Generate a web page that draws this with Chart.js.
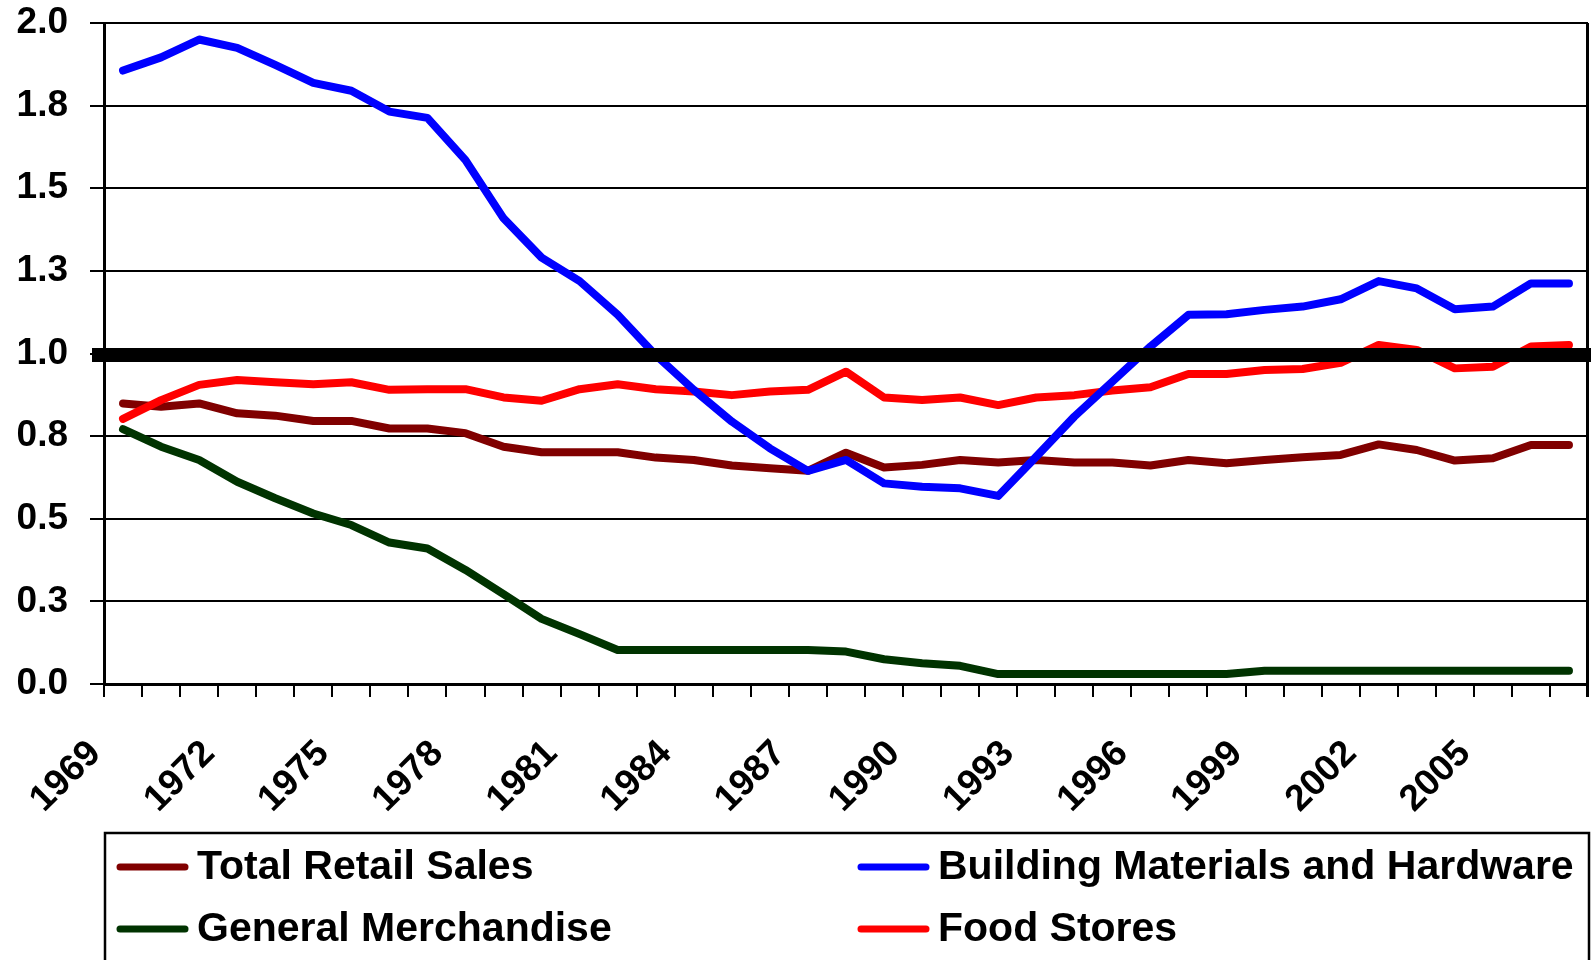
<!DOCTYPE html>
<html>
<head>
<meta charset="utf-8">
<script src="https://cdn.jsdelivr.net/npm/chart.js@4.4.1/dist/chart.umd.min.js"></script>
<style>
html,body{margin:0;padding:0;background:#fff;overflow:hidden}
#wrap{width:1591px;height:960px;position:relative}
canvas{display:block}
</style>
</head>
<body>
<div id="wrap"><canvas id="c" width="1591" height="960"></canvas></div>
<script>
// ---- Data ----
const years = ["1969","1970","1971","1972","1973","1974","1975","1976","1977","1978",
  "1979","1980","1981","1982","1983","1984","1985","1986","1987","1988",
  "1989","1990","1991","1992","1993","1994","1995","1996","1997","1998",
  "1999","2000","2001","2002","2003","2004","2005","2006","2007"];

const totalRetailSales = [0.849,0.839,0.849,0.819,0.812,0.796,0.796,0.773,0.773,0.759,
  0.718,0.701,0.701,0.701,0.685,0.678,0.661,0.653,0.645,0.700,
  0.655,0.663,0.678,0.670,0.678,0.670,0.670,0.661,0.678,0.668,
  0.678,0.686,0.693,0.725,0.708,0.676,0.683,0.723,0.723];

const buildingMaterials = [1.856,1.896,1.950,1.925,1.873,1.819,1.795,1.732,1.713,1.585,
  1.409,1.290,1.219,1.117,0.995,0.890,0.794,0.713,0.645,0.678,
  0.607,0.597,0.592,0.569,0.688,0.809,0.915,1.021,1.117,1.119,
  1.132,1.142,1.164,1.219,1.197,1.134,1.142,1.212,1.212];

const generalMerchandise = [0.771,0.718,0.678,0.612,0.562,0.516,0.481,0.428,0.410,0.345,
  0.272,0.197,0.151,0.103,0.103,0.103,0.103,0.103,0.103,0.098,
  0.075,0.063,0.055,0.030,0.030,0.030,0.030,0.030,0.030,0.030,
  0.040,0.040,0.040,0.040,0.040,0.040,0.040,0.040,0.040];

const foodStores = [0.802,0.859,0.905,0.920,0.913,0.907,0.913,0.890,0.892,0.892,
  0.867,0.857,0.892,0.907,0.892,0.885,0.874,0.885,0.890,0.945,
  0.867,0.859,0.867,0.844,0.867,0.874,0.888,0.898,0.938,0.938,
  0.950,0.953,0.972,1.026,1.011,0.955,0.960,1.021,1.026];

const seriesNames = ["Total Retail Sales","Building Materials and Hardware","General Merchandise","Food Stores"];
const seriesColors = ["#800000","#0000FF","#003300","#FF0000"];
const referenceLevel = 1.0;
const yMin = 0, yMax = 2, yStep = 0.25;

// ---- Chart ----
const FONT = "'Liberation Sans', Arial, Helvetica, sans-serif";
const seriesData = [totalRetailSales, buildingMaterials, generalMerchandise, foodStores];
const drawOrder = [2, 0, 3, 1];

const datasets = seriesNames.map((name, i) => ({
  label: name,
  data: seriesData[i],
  borderColor: seriesColors[i],
  backgroundColor: seriesColors[i],
  borderWidth: 8,
  pointRadius: 0,
  pointHoverRadius: 0,
  tension: 0,
  fill: false,
  borderCapStyle: 'round',
  borderJoinStyle: 'round',
  order: drawOrder[i]
}));

const decor = {
  id: 'decor',
  afterDatasetsDraw(chart) {
    const {ctx, chartArea, scales} = chart;
    const yp = scales.y.getPixelForValue(referenceLevel);
    ctx.save();
    ctx.fillStyle = '#000';
    const x0 = chartArea.left - 12;
    ctx.fillRect(x0, Math.round(yp) - 6, chart.width - x0, 14);
    ctx.strokeStyle = '#000';
    ctx.lineWidth = 3;
    ctx.beginPath();
    ctx.moveTo(chartArea.right - 0.5, chartArea.top);
    ctx.lineTo(chartArea.right - 0.5, chartArea.bottom + 13);
    ctx.stroke();
    ctx.restore();
  },
  afterDraw(chart) {
    const {ctx, chartArea} = chart;
    ctx.save();
    const boxTop = 833;
    ctx.strokeStyle = '#000';
    ctx.lineWidth = 2.5;
    ctx.strokeRect(chartArea.left + 1, boxTop, chartArea.right - chartArea.left, 200);
    const colX = [197, 938];
    const rowY = [867, 929];
    ctx.font = "bold 41px " + FONT;
    ctx.textBaseline = 'middle';
    ctx.textAlign = 'left';
    chart.data.datasets.forEach((ds, i) => {
      const col = i % 2, row = Math.floor(i / 2);
      const tx = colX[col], ty = rowY[row];
      ctx.strokeStyle = ds.borderColor;
      ctx.lineWidth = 7;
      ctx.lineCap = 'round';
      ctx.beginPath();
      ctx.moveTo(tx - 77, ty);
      ctx.lineTo(tx - 12, ty);
      ctx.stroke();
      ctx.fillStyle = '#000';
      ctx.fillText(ds.label, tx, ty + 1);
    });
    ctx.restore();
  }
};

new Chart(document.getElementById('c'), {
  type: 'line',
  data: { labels: years, datasets },
  options: {
    responsive: false,
    animation: false,
    devicePixelRatio: 1,
    layout: { padding: { top: 23, right: 3, left: 0, bottom: 0 } },
    plugins: { legend: { display: false }, tooltip: { enabled: false } },
    events: [],
    scales: {
      x: {
        type: 'category',
        offset: true,
        grid: { offset: true, drawOnChartArea: false, drawTicks: true, tickLength: 13, color: '#000', lineWidth: 2 },
        border: { display: true, color: '#000', width: 3 },
        ticks: {
          autoSkip: false, maxRotation: 45, minRotation: 45,
          padding: 35, labelOffset: -28, color: '#000',
          font: { family: FONT, size: 37, weight: 'bold' },
          callback: function(v, i) { return i % 3 === 0 ? this.getLabelForValue(v) : ''; }
        },
        afterFit: s => { s.height = 276; s.paddingLeft = 0; s.paddingRight = 0; }
      },
      y: {
        min: yMin, max: yMax,
        grid: { color: '#000', lineWidth: 2, tickLength: 14, drawTicks: true },
        border: { display: true, color: '#000', width: 3 },
        ticks: {
          stepSize: yStep, padding: 22, color: '#000',
          font: { family: FONT, size: 37, weight: 'bold' },
          callback: v => Number(v).toFixed(1)
        },
        afterFit: s => { s.width = 104; s.paddingTop = 0; s.paddingBottom = 0; }
      }
    }
  },
  plugins: [decor]
});
</script>
</body>
</html>
